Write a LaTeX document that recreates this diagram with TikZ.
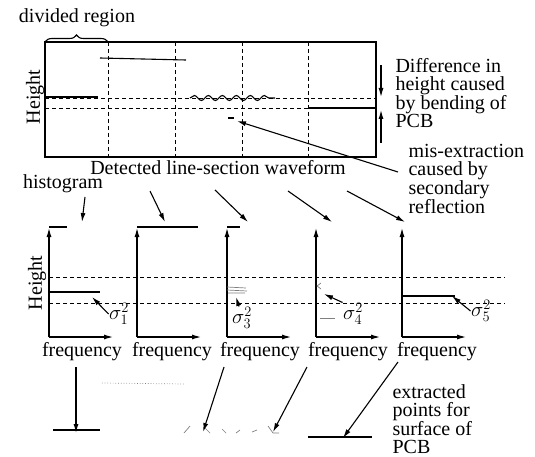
\documentclass[tikz,border=0pt]{standalone}
\usepackage{amsmath}
\usepackage{fontspec}
\setmainfont{Liberation Serif}
\usepackage{tikz}
\usetikzlibrary{arrows, arrows.meta}
\usetikzlibrary{calc}
\usetikzlibrary{decorations.pathmorphing, decorations.pathreplacing}

\begin{document}
\begin{tikzpicture}[x=1pt, y=-1pt, >={Latex[length=9pt, width=5pt]}, line width=1.1pt,
    txt/.style={font=\fontsize{20}{18}\selectfont, inner sep=0pt, align=left},
    dashline/.style={line width=0.9pt, dash pattern=on 4pt off 3pt},
    faint/.style={gray, line width=0.7pt}]
    \useasboundingbox (0,0) rectangle (535,457);
% line-section waveform
\draw (45,42) rectangle (376,157);
\foreach \x in {108,175,242,308}
    \draw[dashline] (\x,42) -- (\x,157);
\draw[dashline] (45,98) -- (376,98);
\draw[dashline] (45,108) -- (376,108);
\draw (45,97) -- (98,97);
\draw (100,58) -- (186,60);
\draw[decorate, decoration={snake, segment length=14pt, amplitude=2.5pt}] (190,98) -- (275,98);
\draw (228,118) -- (234,118);
\draw (308,108) -- (376,108);
\draw[decorate, decoration={brace, amplitude=7pt}] (45,42) -- (108,42);
\node[txt] (region) at (77,18) {divided region};
\node[txt, rotate=90] (hgt) at (35,97) {Height};
\node[txt, anchor=west] (diff) at (395,93) {Difference in\\height caused\\by bending of\\PCB};
\coordinate (dtop) at (381,65);
\coordinate (dlow) at (381,143);
\draw[->] (dtop) -- (381,97);
\draw[->] (dlow) -- (381,110);
\node[txt, anchor=west] (misext) at (408,179) {mis-extraction\\caused by\\secondary\\reflection};
\coordinate (mstart) at (398,172);
\coordinate (mpoint) at (237,121);
\draw[->] (mstart) -- (mpoint);
\node[txt] (detected) at (218,168) {Detected line-section waveform};
\node[txt] (histlbl) at (63,184) {histogram};
% histograms
\foreach \x/\n in {49/1,137/2,227/3,316/4,402/5} {
    \coordinate (o\n) at (\x,337);
    \draw[->] (o\n) -- (\x,228);
    \draw[->] (o\n) -- (\x+64,337);
}
\draw[dashline] (49,277) -- (505,277);
\draw[dashline] (49,303) -- (505,303);
\node[txt, rotate=90] (hgt2) at (37,283) {Height};
\draw (49,227) -- (67,227);
\draw (137,227) -- (198,227);
\draw (227,227) -- (240,227);
\draw (49,292) -- (100,292);
\draw (402,296) -- (455,296);
\draw[faint] (227,287) -- (246,288) (227,290) -- (247,291) (228,293) -- (245,293);
\draw[faint] (321,283) -- (317,286) -- (321,289);
\draw[faint] (320,318) -- (335,318);
\node[txt] (s1) at (119,314) {$\sigma_1^2$};
\node[txt] (s3) at (242,318) {$\sigma_3^2$};
\node[txt] (s4) at (353,314) {$\sigma_4^2$};
\node[txt] (s5) at (481,311) {$\sigma_5^2$};
\draw[->] (s1.west) -- (92,297);
\draw[->] ($(s3.north)+(-3,0)$) -- (236,297);
\draw[->] (s4.north west) -- (324,294);
\draw[->] (s5.west) -- (452,296);
% arrows to histograms
\coordinate (a1) at (85,197);
\coordinate (a2) at (150,191);
\coordinate (a3) at (215,190);
\coordinate (a4) at (288,191);
\coordinate (a5) at (347,191);
\draw[->] (a1) -- (82,222);
\draw[->] (a2) -- (165,222);
\draw[->] (a3) -- (248,222);
\draw[->] (a4) -- (332,222);
\draw[->] (a5) -- (405,222);
\foreach \x/\n in {82/1,172/2,260/3,348/4,437/5}
    \node[txt] (freq\n) at (\x,352) {frequency};
% extracted points
\draw (53,430) -- (100,430);
\draw[faint, dotted] (102,383) -- (185,384);
\draw (308,437) -- (372,437);
\draw[faint] (184,433) -- (190,426) (205,428) -- (210,433) (222,429) -- (226,433)
    (236,433) -- (240,430) (252,432) -- (257,430) (268,426) -- (273,433) -- (279,433);
\coordinate (e1) at (76,433);
\coordinate (e2) at (203,432);
\coordinate (e3) at (273,432);
\coordinate (e4) at (343,438);
\draw[->] (76,367) -- (e1);
\draw[->] (224,367) -- (e2);
\draw[->] (307,367) -- (e3);
\draw[->] (398,362) -- (e4);
\node[txt, anchor=west] (extr) at (392,419) {extracted\\points for\\surface of\\PCB};
\end{tikzpicture}
\end{document}
